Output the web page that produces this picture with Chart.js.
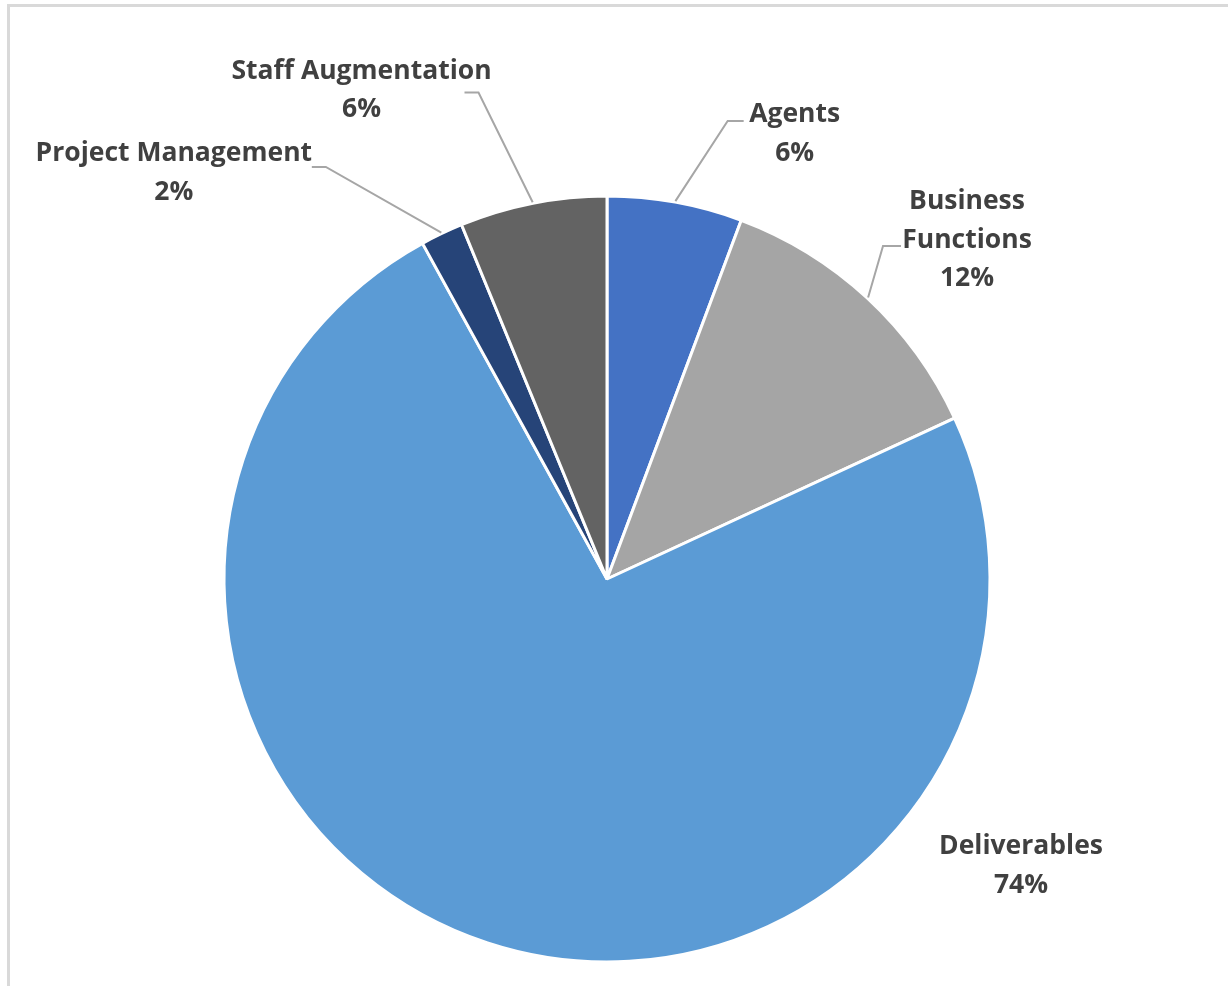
<!DOCTYPE html>
<html><head><meta charset="utf-8">
<script src="https://cdn.jsdelivr.net/npm/chart.js@4.4.0/dist/chart.umd.min.js"></script>
<style>
html,body{margin:0;padding:0;background:#fff;overflow:hidden;width:1228px;height:986px}
#frame{position:absolute;left:7px;top:4px;width:1300px;height:1100px;border:3px solid #d9d9d9;box-sizing:border-box}
#wrap{position:absolute;left:0;top:0;width:1228px;height:986px}
</style></head><body>
<div id="frame"></div>
<div id="wrap"><canvas id="c" width="1228" height="986"></canvas></div>
<script>
// ---- data ----
const categories = ['Agents', 'Business Functions', 'Deliverables', 'Project Management', 'Staff Augmentation'];
const shares = [5.7, 12.4, 73.9, 1.8, 6.2];
const labelLines = [['Agents'], ['Business', 'Functions'], ['Deliverables'], ['Project Management'], ['Staff Augmentation']];

// ---- style / layout ----
const colors = ['#4472C4', '#A5A5A5', '#5B9BD5', '#264478', '#636363'];
// label centre relative to pie centre, in units of radius
const labelPos = [[0.49, -1.17], [0.94, -0.893], [1.081, 0.741], [-1.131, -1.068], [-0.641, -1.283]];
// leader attach point (px offset from label centre) and horizontal elbow length (signed)
const leaders = [[-51, -10, -16], [-66, 9, -18], null, [138, -3, 14], [103, 5, 14]];

const total = shares.reduce((a, b) => a + b, 0);
const pct = shares.map(v => Math.round(v / total * 100) + '%');

const labelPlugin = {
  id: 'excelLabels',
  afterDatasetsDraw(chart) {
    const ctx = chart.ctx;
    const meta = chart.getDatasetMeta(0);
    ctx.save();
    meta.data.forEach((arc, i) => {
      const p = arc.getProps(['x', 'y', 'startAngle', 'endAngle', 'outerRadius'], true);
      const R = p.outerRadius;
      const lx = p.x + labelPos[i][0] * R;
      const ly = p.y + labelPos[i][1] * R;
      const ld = leaders[i];
      if (ld) {
        const mid = (p.startAngle + p.endAngle) / 2;
        const sx = p.x + Math.cos(mid) * (R + 1);
        const sy = p.y + Math.sin(mid) * (R + 1);
        const ex = lx + ld[0], ey = ly + ld[1];
        ctx.beginPath();
        ctx.strokeStyle = '#A6A6A6';
        ctx.lineWidth = 2;
        ctx.moveTo(sx, sy);
        ctx.lineTo(ex + ld[2], ey);
        ctx.lineTo(ex, ey);
        ctx.stroke();
      }
      const lines = labelLines[i].concat([pct[i]]);
      const lh = 38.5;
      ctx.fillStyle = '#404040';
      ctx.font = 'bold 26.5px "Open Sans"';
      ctx.textAlign = 'center';
      ctx.textBaseline = 'middle';
      lines.forEach((t, k) => {
        ctx.fillText(t, lx, ly + 3 + (k - (lines.length - 1) / 2) * lh);
      });
    });
    ctx.restore();
  }
};

new Chart(document.getElementById('c'), {
  type: 'pie',
  data: {
    labels: categories,
    datasets: [{
      data: shares,
      backgroundColor: colors,
      borderColor: '#ffffff',
      borderWidth: 3,
      hoverOffset: 0,
      hoverBorderWidth: 3
    }]
  },
  options: {
    responsive: false,
    animation: false,
    radius: 383,
    layout: { padding: { left: 224, right: 238, top: 196, bottom: 24 } },
    plugins: { legend: { display: false }, tooltip: { enabled: false } },
    events: []
  },
  plugins: [labelPlugin]
});
</script>
</body></html>
